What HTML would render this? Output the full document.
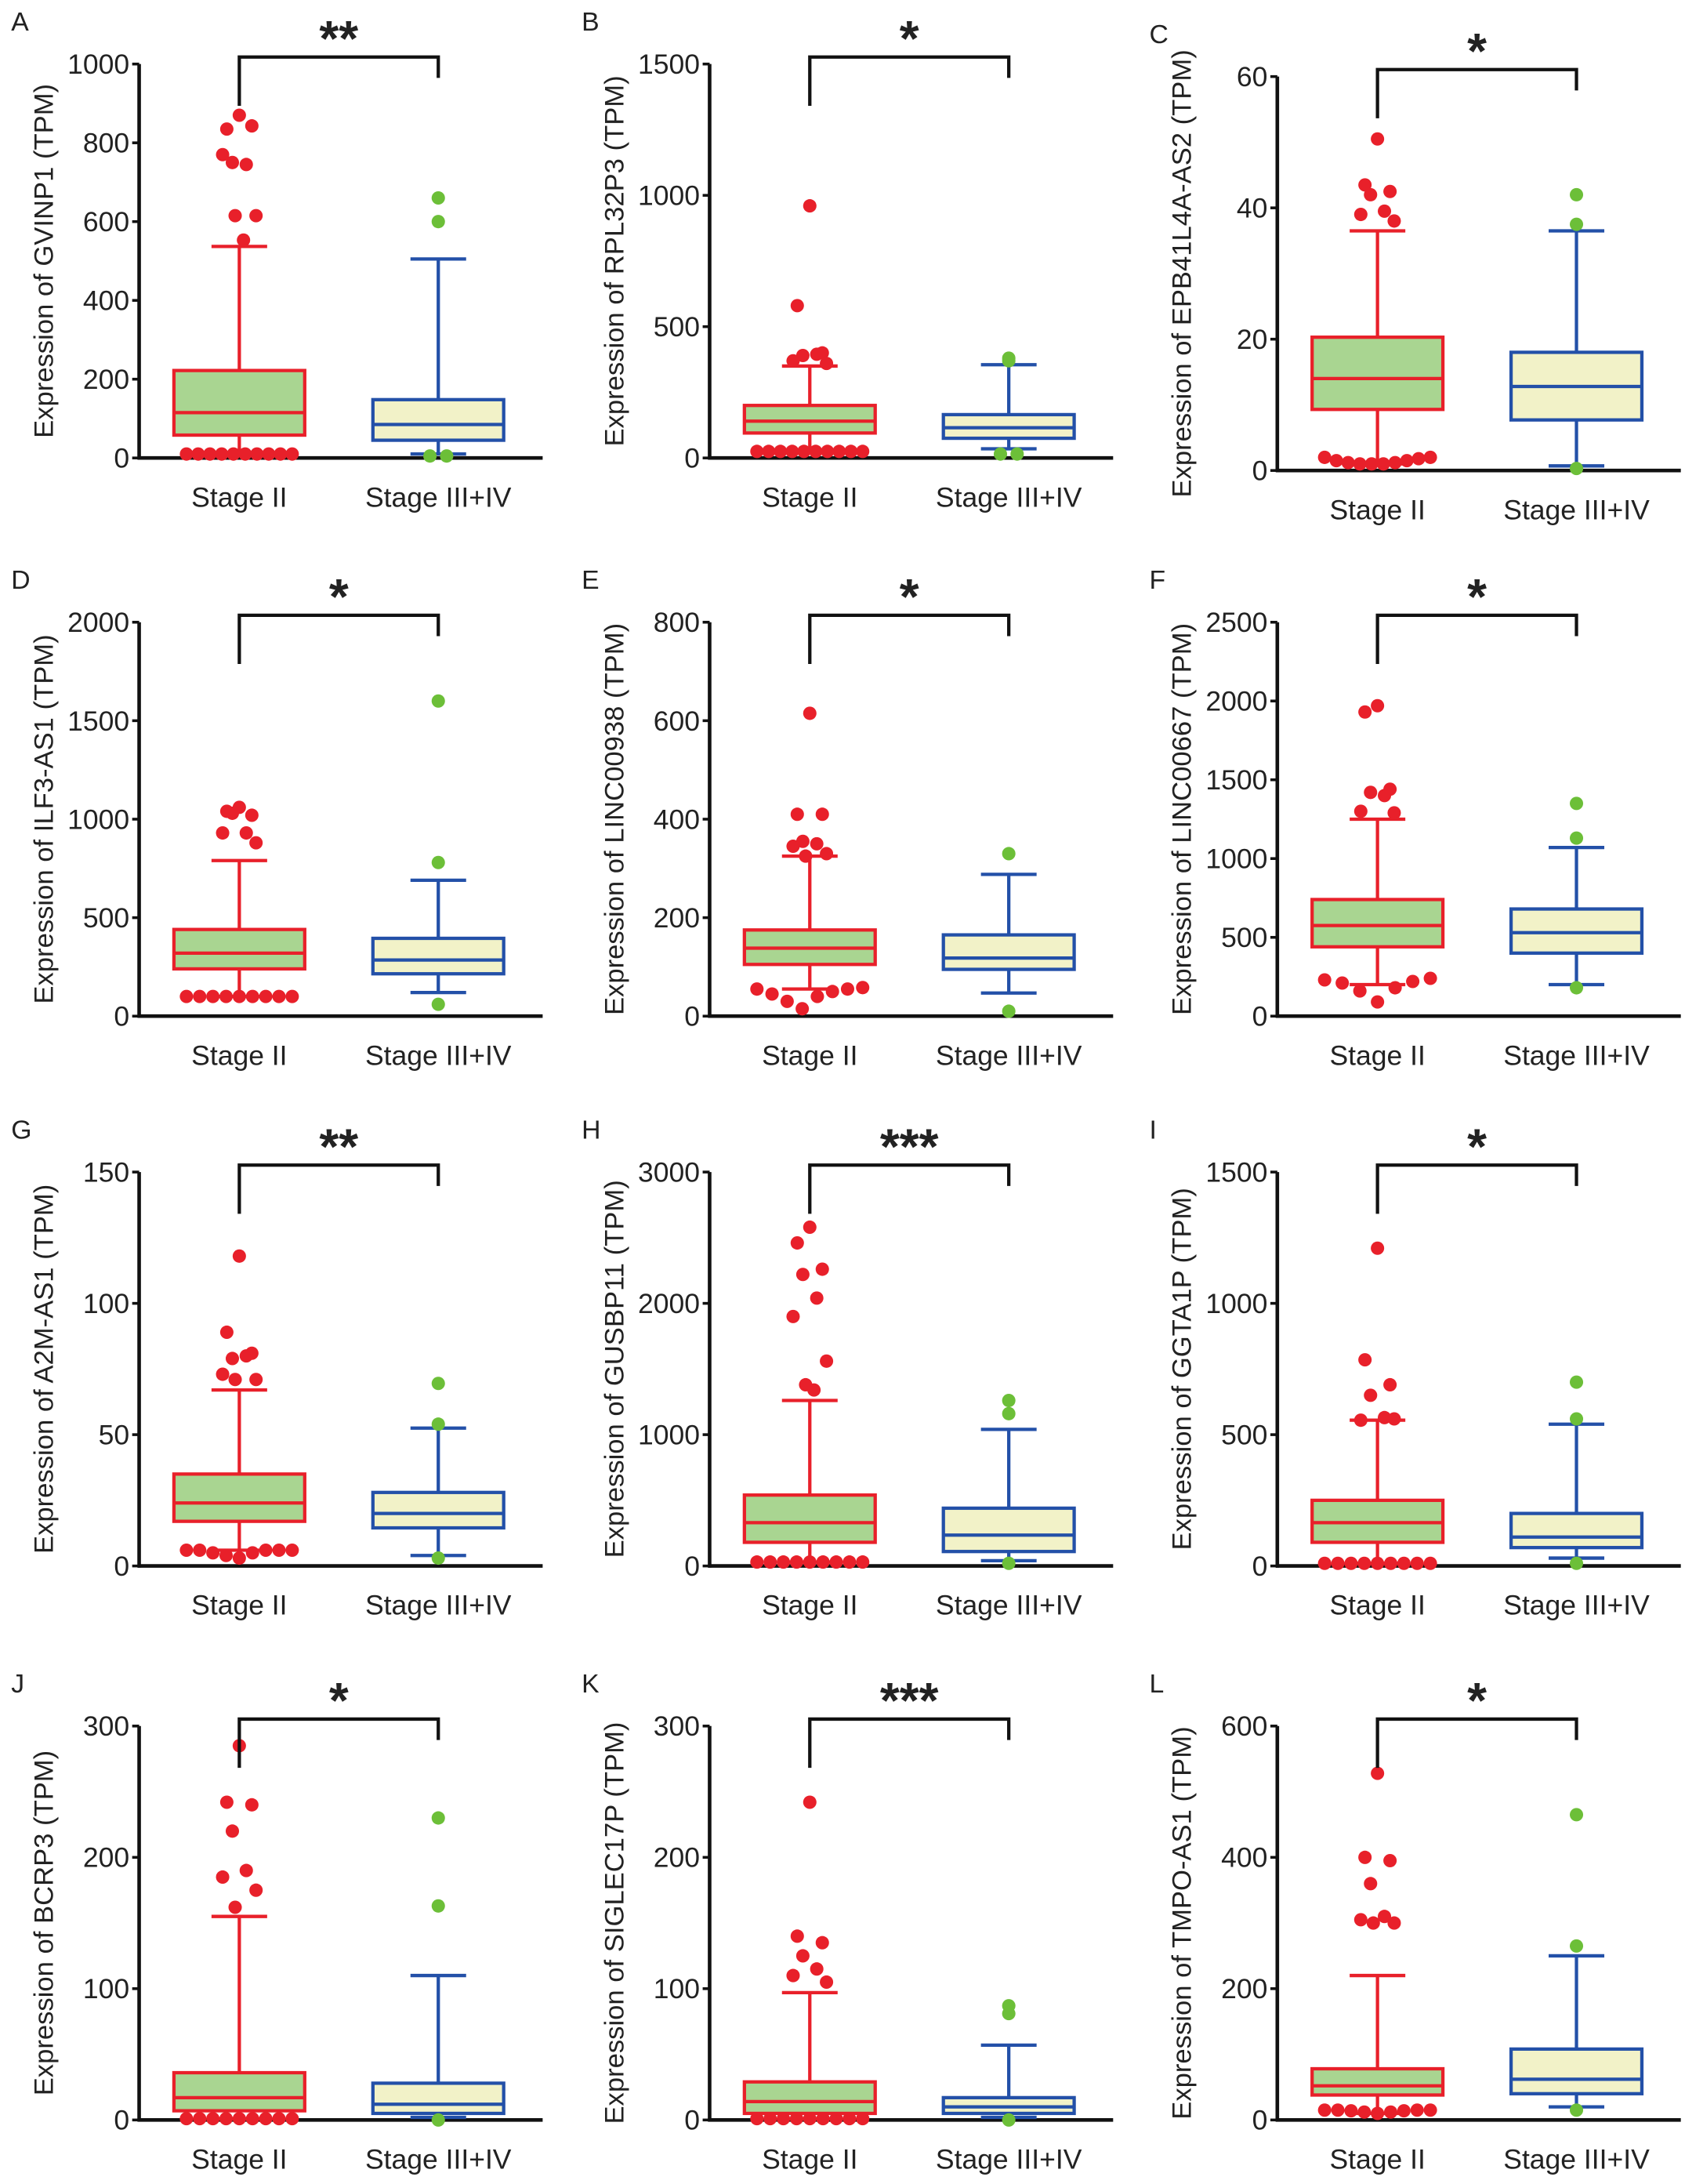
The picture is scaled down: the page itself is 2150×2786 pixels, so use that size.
<!DOCTYPE html>
<html><head><meta charset="utf-8"><style>
html,body{margin:0;padding:0;background:#fff}
svg{display:block}
text{font-family:"Liberation Sans",Arial,sans-serif;fill:#222}
</style></head><body>
<svg id="fig" width="2150" height="2786" viewBox="0 0 1211 1569" preserveAspectRatio="none" xmlns="http://www.w3.org/2000/svg"></svg>
<script>
// ---- data ----
const panelLetters = ["A","B","C","D","E","F","G","H","I","J","K","L"];
const genes = ["GVINP1","RPL32P3","EPB41L4A-AS2","ILF3-AS1","LINC00938","LINC00667","A2M-AS1","GUSBP11","GGTA1P","BCRP3","SIGLEC17P","TMPO-AS1"];
const stars = ["**","*","*","*","*","*","**","***","*","*","***","*"];
const axisMax = [1000,1500,60,2000,800,2500,150,3000,1500,300,300,600];
const axisStep = [200,500,20,500,200,500,50,1000,500,100,100,200];
const categories = ["Stage II","Stage III+IV"];
// [whiskerLo, q1, median, q3, whiskerHi]
const stage2Box = [[10,58,115,222,537],[25,95,140,200,350],[1,9.3,14,20.3,36.5],[100,240,320,440,790],[55,105,138,175,325],[200,440,575,740,1250],[6,17,24,35,67],[30,180,330,540,1260],[10,90,165,250,555],[1,7,17,36,155],[1,5,14,29,97],[10,38,52,78,220]];
const stage34Box = [[10,45,85,148,505],[35,75,115,165,355],[0.7,7.7,12.8,18,36.5],[120,215,285,395,690],[47,95,118,165,288],[200,400,530,680,1070],[4,14.5,20,28,52.5],[40,110,235,440,1040],[30,70,110,200,540],[2,5,12,28,110],[2,5,10,17,57],[20,40,62,108,250]];
const stage2High = [[870,835,843,750,745,770,615,615,553],[960,580,400,390,395,370,360],[50.5,43.5,42.5,42,39.5,39,38],[1060,1040,1020,1030,930,930,880],[615,410,410,355,350,345,330,325],[1970,1930,1440,1420,1400,1300,1290],[118,89,81,79,80,73,71,71],[2580,2460,2260,2220,2040,1900,1560,1380,1340],[1210,785,690,650,565,555,560],[285,242,240,220,190,185,175,162],[242,140,135,125,115,110,105],[528,400,395,360,310,305,300,300]];
const stage2Low = [[10,10,10,10,10,10,10,10,10,10],[25,25,25,25,25,25,25,25,25,25],[2,1.5,1.2,1,1,1,1.2,1.5,1.8,2],[100,100,100,100,100,100,100,100,100],[55,45,30,15,40,50,55,58],[230,210,160,90,180,220,240],[6,6,5,4,3,5,6,6,6],[30,30,30,30,30,30,30,30,30],[10,10,10,10,10,10,10,10,10],[1,1,1,1,1,1,1,1,1],[1,1,1,1,1,1,1,1,1],[15,15,14,12,10,12,14,15,15]];
const stage34Out = [[660,600,5,5],[380,370,15,15],[42,37.5,0.3],[1600,780,60],[330,10],[1350,1130,180],[69.5,54,3],[1260,1160,20],[700,560,10],[230,163,0],[87,81,0],[465,265,15]];

// ---- layout ----
const colX=[100,510,918], rowTop=[[46,46,55],[447,447,447],[842,842,842],[1240,1240,1240]], plotH=283, axisLen=290;
const NS="http://www.w3.org/2000/svg", svg=document.getElementById('fig');
function mk(tag,attrs,parent){const e=document.createElementNS(NS,tag);for(const k in attrs)e.setAttribute(k,attrs[k]);(parent||svg).appendChild(e);return e;}
const RED="#e8202a",GFILL="#a9d591",BLUE="#2350a8",YFILL="#f2f2c8",GDOT="#6cbf38";
for(let p=0;p<12;p++){
  const r=Math.floor(p/3),c=p%3, ax=colX[c], top=rowTop[r][c], zero=top+plotH;
  const g=mk('g',{});  
  const y=v=>zero-v/axisMax[p]*plotH;
  const cx=[ax+72, ax+215];
  const lt=mk('text',{x:ax-92,y:top-24,'font-size':19},g); lt.textContent=panelLetters[p];
   
  const ya=mk('line',{x1:ax,y1:top,x2:ax,y2:zero+1.2,stroke:'#111','stroke-width':2.6},g);
   
  const xa=mk('line',{x1:ax-1,y1:zero,x2:ax+axisLen,y2:zero,stroke:'#111','stroke-width':2.6},g);
   
  for(let v=0;v<=axisMax[p]+1e-9;v+=axisStep[p]){
    mk('line',{x1:ax-5,y1:y(v),x2:ax,y2:y(v),stroke:'#111','stroke-width':2},g);
    const t=mk('text',{x:ax-7,y:y(v)+7,'font-size':20,'text-anchor':'end'},g); t.textContent=v;
     
  }
  const tt=mk('text',{transform:`translate(${ax-62},${(top+zero)/2}) rotate(-90)`,'font-size':19.5,'text-anchor':'middle'},g);
  tt.textContent='Expression of '+genes[p]+' (TPM)';
   
  categories.forEach((cat,i)=>{const t=mk('text',{x:cx[i],y:zero+35,'font-size':20,'text-anchor':'middle'},g);t.textContent=cat;
     });
  [[stage2Box[p],RED,GFILL],[stage34Box[p],BLUE,YFILL]].forEach(([b,col,fill],i)=>{
    const x=cx[i], hw=47, cw=20;
    mk('line',{x1:x,y1:y(b[0]),x2:x,y2:y(b[4]),stroke:col,'stroke-width':2.4},g);
    mk('line',{x1:x-cw,y1:y(b[4]),x2:x+cw,y2:y(b[4]),stroke:col,'stroke-width':2.4},g);
    mk('line',{x1:x-cw,y1:y(b[0]),x2:x+cw,y2:y(b[0]),stroke:col,'stroke-width':2.4},g);
    const bx=mk('rect',{x:x-hw,y:y(b[3]),width:2*hw,height:y(b[1])-y(b[3]),fill:fill,stroke:col,'stroke-width':2.4},g);
     
    mk('line',{x1:x-hw,y1:y(b[2]),x2:x+hw,y2:y(b[2]),stroke:col,'stroke-width':2.4},g);
  });
  const jit=[0,-9,9,-5,5,-12,12,-3,3];
  stage2High[p].forEach((v,i)=>{const d=mk('circle',{cx:cx[0]+jit[i%jit.length],cy:y(v),r:4.8,fill:RED},g);
     });
  const n=stage2Low[p].length;
  stage2Low[p].forEach((v,i)=>{const d=mk('circle',{cx:cx[0]-38+76*i/(n-1),cy:y(v),r:4.8,fill:RED},g);
     });
  const lowCnt=stage34Out[p].filter(v=>v<stage34Box[p][0]).length; let li=0;
  stage34Out[p].forEach((v,i)=>{let x=cx[1];
    if(v<stage34Box[p][0]){ if(lowCnt>1){x=cx[1]-6+12*li/(lowCnt-1);} li++; }
    const d=mk('circle',{cx:x,cy:y(v),r:4.8,fill:GDOT},g);
     });
  const by=top-5;
  const br=mk('path',{d:`M${cx[0]},${top+30} V${by} H${cx[1]} V${top+10}`,fill:'none',stroke:'#111','stroke-width':2.4},g);
   
  const st=mk('text',{x:(cx[0]+cx[1])/2,y:by-1,'font-size':36,'font-weight':'bold','text-anchor':'middle'},g);
  st.textContent=stars[p];  
}
</script>
</body></html>
